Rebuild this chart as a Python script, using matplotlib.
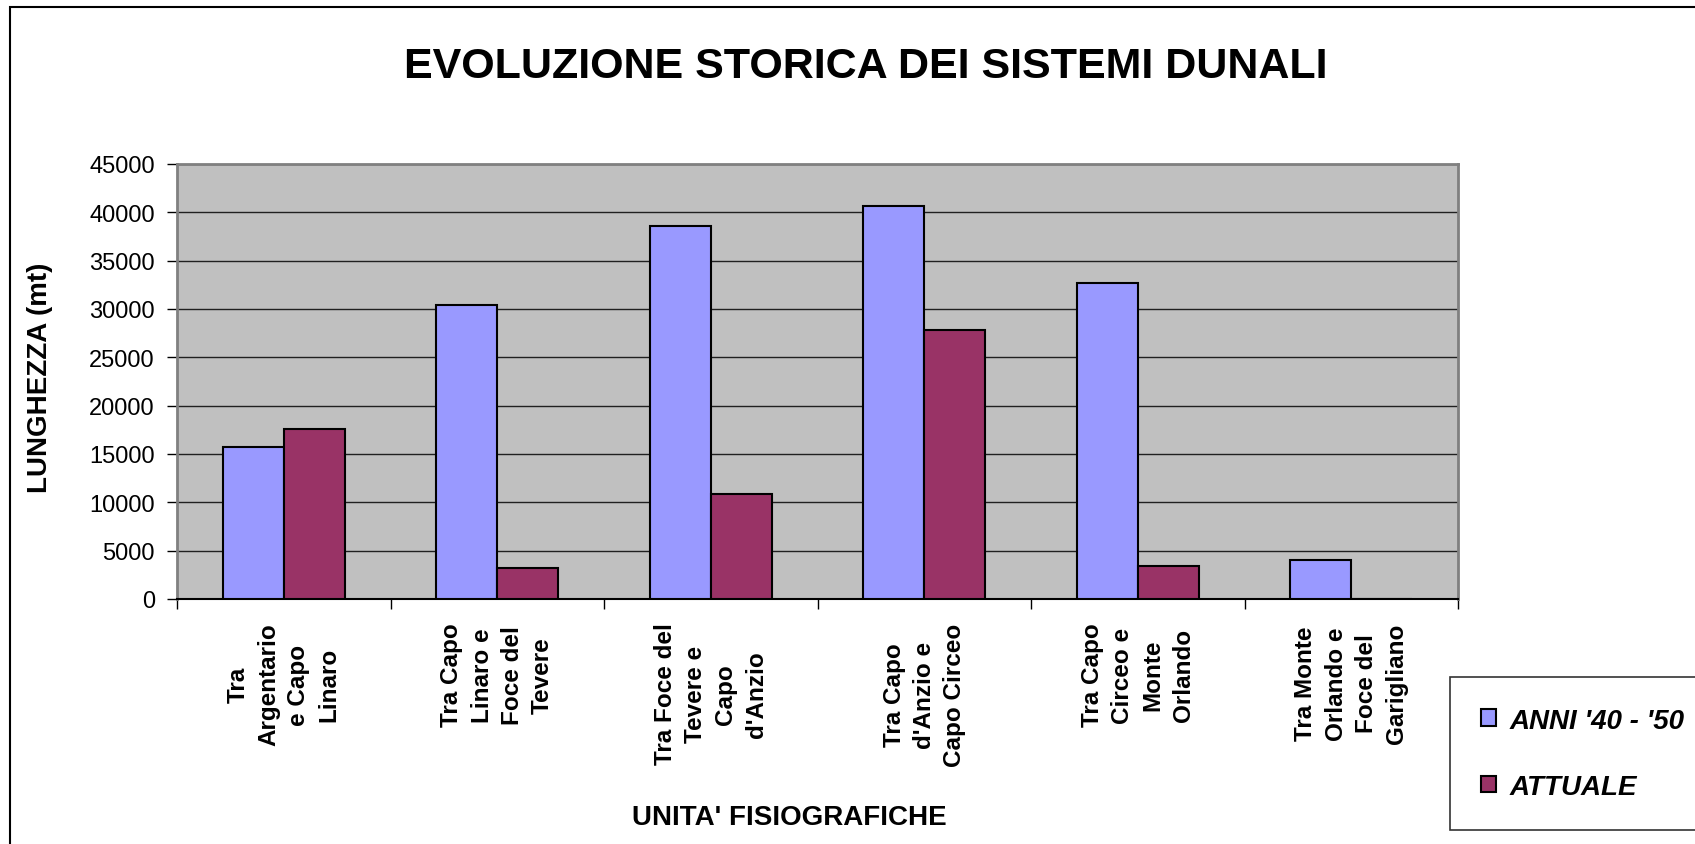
import matplotlib as mpl
mpl.use('Agg')

import matplotlib.pyplot as plt
import matplotlib.patches as mpatches
import numpy as np

# chart data
categories = [
    "Tra\nArgentario\ne Capo\nLinaro",
    "Tra Capo\nLinaro e\nFoce del\nTevere",
    "Tra Foce del\nTevere e\nCapo\nd'Anzio",
    "Tra Capo\nd'Anzio e\nCapo Circeo",
    "Tra Capo\nCirceo e\nMonte\nOrlando",
    "Tra Monte\nOrlando e\nFoce del\nGarigliano",
]
anni_40_50 = [15750, 30400, 38600, 40650, 32650, 4070]
attuale = [17550, 3170, 10900, 27850, 3450, 0]
series_names = ["ANNI '40 - '50", "ATTUALE"]

plt.rcParams['font.family'] = ['Liberation Sans', 'DejaVu Sans']

W, H = 1695, 845
fig = plt.figure(figsize=(W / 100, H / 100), dpi=100)
ax = fig.add_axes([177 / W, 1 - 600 / H, (1458 - 177) / W, (600 - 165) / H])

BAR_W = 0.286
x = np.arange(len(categories))
b1 = ax.bar(x - BAR_W / 2, anni_40_50, width=BAR_W, color='#9999FF',
            edgecolor='black', linewidth=1.5, zorder=3)
b2 = ax.bar(x + BAR_W / 2, attuale, width=BAR_W, color='#993366',
            edgecolor='black', linewidth=1.5, zorder=3)

ax.set_facecolor('#C0C0C0')
ax.set_xlim(-0.5, len(categories) - 0.5)
ax.set_ylim(0, 45000)
ax.set_yticks(np.arange(0, 45001, 5000))
ax.yaxis.grid(True, color='#202020', linewidth=1)
ax.set_axisbelow(True)

# category labels centred, tick marks on boundaries
ax.set_xticks(x)
ax.set_xticklabels(categories, rotation=90, fontsize=17.5, fontweight='bold',
                   multialignment='center', va='top', linespacing=1.4)
ax.set_xticks(np.arange(-0.5, len(categories), 1), minor=True)
ax.tick_params(axis='x', which='major', length=0, pad=17)
ax.tick_params(axis='x', which='minor', length=7, width=1, color='black')
ax.tick_params(axis='y', length=7, width=1, pad=9, labelsize=17)

for side in ['top', 'right', 'left']:
    ax.spines[side].set_color('#808080')
    ax.spines[side].set_linewidth(2)
ax.spines['bottom'].set_color('black')
ax.spines['bottom'].set_linewidth(1.5)

fig.text(866 / W, 1 - 67 / H, 'EVOLUZIONE STORICA DEI SISTEMI DUNALI',
         ha='center', va='center', fontsize=31, fontweight='bold')
fig.text(40 / W, 1 - 378 / H, 'LUNGHEZZA (mt)', rotation=90,
         ha='center', va='center', fontsize=20, fontweight='bold')
fig.text(789 / W, 1 - 818 / H, "UNITA' FISIOGRAFICHE",
         ha='center', va='center', fontsize=20, fontweight='bold')

leg = fig.legend([b1, b2], series_names, loc='upper left',
                 bbox_to_anchor=(1450 / W, 1 - 678 / H), borderaxespad=0,
                 frameon=True, fancybox=False, edgecolor='black',
                 handlelength=0.55, handleheight=0.55, handletextpad=0.5,
                 labelspacing=1.45, borderpad=1.1,
                 prop={'size': 20, 'weight': 'bold', 'style': 'italic'})
leg.get_frame().set_linewidth(1.2)

# outer chart border (clipped on right/bottom in the original)
fig.patches.append(mpatches.Rectangle((10 / W, -0.1), 1.2, 1.1 - 8 / H,
                   transform=fig.transFigure, fill=False,
                   edgecolor='black', linewidth=1.5))

fig.savefig('out.png', dpi=100)
plt.close()
